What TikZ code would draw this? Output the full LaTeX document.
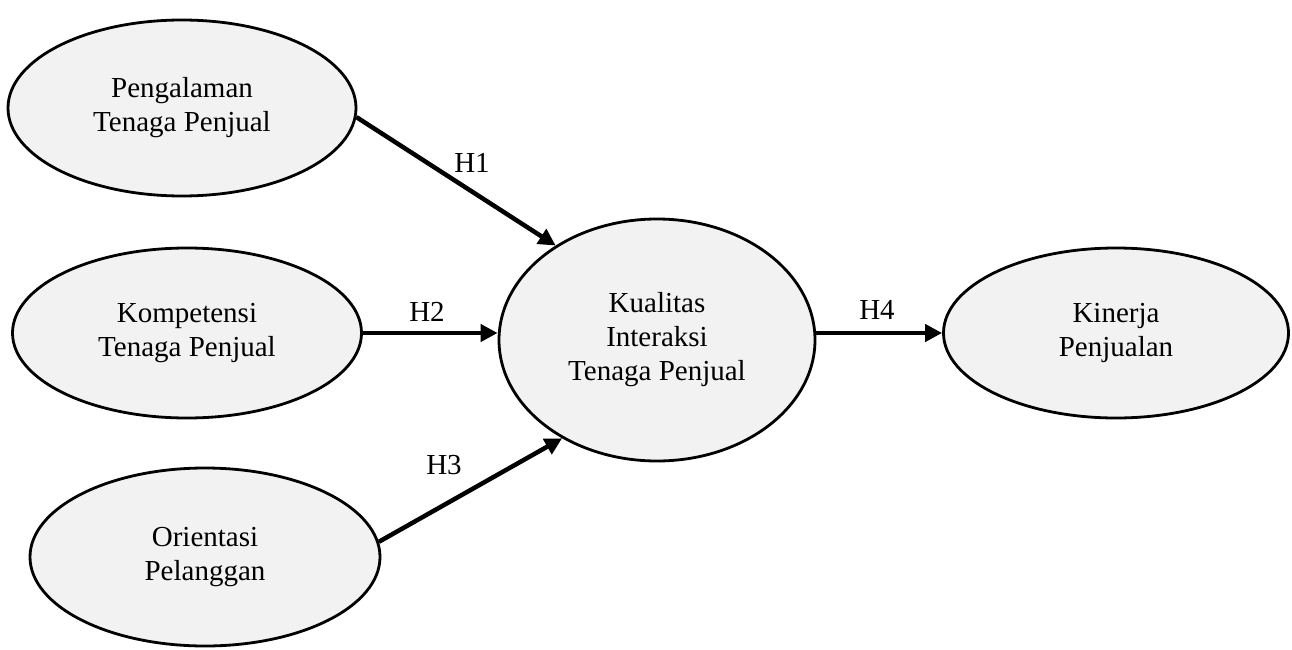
\documentclass[tikz,border=0pt]{standalone}
\usepackage{fontspec}
\setmainfont{Liberation Serif}
\usetikzlibrary{shapes.geometric,arrows.meta}
\tikzset{
  var/.style={ellipse, draw=black, line width=2.8pt, fill=black!5, inner sep=0pt, align=center, font=\fontsize{29}{34}\selectfont},
  arr/.style={line width=4.5pt, -{Triangle[length=17pt,width=17pt]}},
  hyp/.style={font=\fontsize{29}{34}\selectfont, inner sep=0pt}
}
\begin{document}
\begin{tikzpicture}[x=1pt,y=-1pt]
\useasboundingbox (0,0) rectangle (1292,650);
\node[var, minimum width=348pt, minimum height=176pt] (p1) at (182,108) {Pengalaman\\Tenaga Penjual};
\node[var, minimum width=349pt, minimum height=170pt] (p2) at (187,333) {Kompetensi\\Tenaga Penjual};
\node[var, minimum width=350pt, minimum height=178pt] (p3) at (205,557) {Orientasi\\Pelanggan};
\node[var, minimum width=316pt, minimum height=242pt] (kit) at (657,340) {Kualitas\\Interaksi\\Tenaga Penjual};
\node[var, minimum width=345pt, minimum height=170pt] (kp) at (1116,333) {Kinerja\\Penjualan};
\draw[arr] (p1.-3) -- (kit.137);
\draw[arr] (p2.east) -- (kit.west |- p2.east);
\draw[arr] (p3.5) -- (kit.-134);
\draw[arr] (kit.east |- kp.west) -- (kp.west);
\node[hyp] (h1) at (472,163) {H1};
\node[hyp] (h2) at (427,312) {H2};
\node[hyp] (h3) at (444,465) {H3};
\node[hyp] (h4) at (877,310) {H4};
\end{tikzpicture}
\end{document}
